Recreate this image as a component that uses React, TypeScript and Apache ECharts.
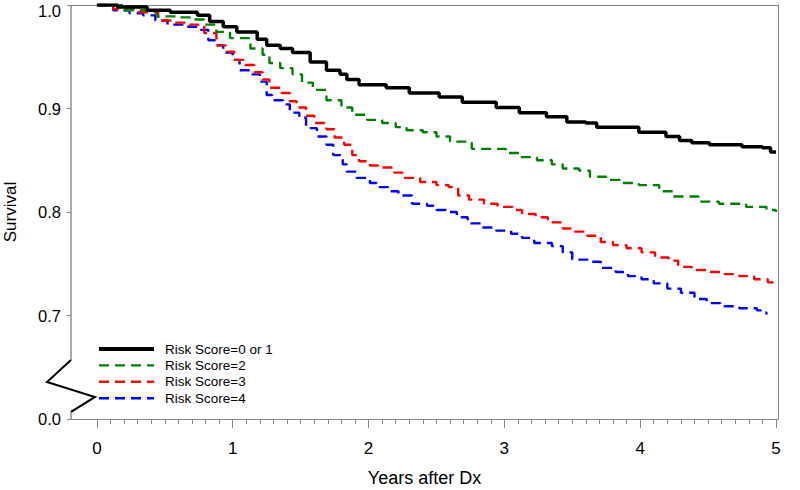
import React, { useEffect, useRef } from "react";
import * as echarts from "echarts";

const seriesNames = ["Risk Score=0 or 1", "Risk Score=2", "Risk Score=3", "Risk Score=4"];
const seriesColors = ["#000000", "#008000", "#ff0000", "#0000ff"];

const timeRisk01 = [0, 0.15, 0.37, 0.54, 0.74, 0.83, 0.93, 1.03, 1.18, 1.25, 1.35, 1.44, 1.57, 1.69, 1.79, 1.84, 1.93, 2.13, 2.3, 2.52, 2.69, 2.94, 3.11, 3.31, 3.46, 3.6, 3.68, 3.99, 4.19, 4.29, 4.38, 4.51, 4.75, 4.9, 4.96, 5.0];
const survRisk01 = [1.0, 0.998, 0.995, 0.993, 0.99, 0.984, 0.979, 0.974, 0.967, 0.961, 0.958, 0.954, 0.945, 0.937, 0.933, 0.928, 0.923, 0.92, 0.915, 0.911, 0.906, 0.901, 0.896, 0.892, 0.887, 0.886, 0.882, 0.877, 0.873, 0.869, 0.867, 0.865, 0.863, 0.862, 0.858, 0.858];

const timeRisk2 = [0, 0.2, 0.44, 0.59, 0.71, 0.79, 0.88, 0.98, 1.13, 1.22, 1.27, 1.35, 1.44, 1.51, 1.59, 1.69, 1.8, 1.88, 1.99, 2.1, 2.2, 2.28, 2.4, 2.5, 2.6, 2.76, 3.01, 3.11, 3.24, 3.35, 3.43, 3.55, 3.63, 3.75, 3.85, 3.99, 4.14, 4.24, 4.43, 4.58, 4.78, 4.93, 5.0];
const survRisk2 = [1.0, 0.995, 0.989, 0.988, 0.986, 0.981, 0.974, 0.968, 0.958, 0.952, 0.944, 0.939, 0.933, 0.925, 0.918, 0.908, 0.901, 0.894, 0.889, 0.886, 0.882, 0.879, 0.877, 0.873, 0.868, 0.861, 0.857, 0.853, 0.85, 0.846, 0.842, 0.84, 0.834, 0.831, 0.828, 0.826, 0.82, 0.815, 0.81, 0.808, 0.805, 0.802, 0.8];

const timeRisk3 = [0, 0.12, 0.27, 0.45, 0.55, 0.67, 0.79, 0.88, 0.96, 1.01, 1.09, 1.16, 1.22, 1.27, 1.36, 1.42, 1.47, 1.54, 1.6, 1.69, 1.75, 1.82, 1.88, 1.93, 2.01, 2.07, 2.19, 2.26, 2.38, 2.5, 2.59, 2.66, 2.74, 2.85, 2.95, 3.06, 3.13, 3.23, 3.32, 3.43, 3.51, 3.61, 3.71, 3.8, 3.9, 4.01, 4.11, 4.21, 4.28, 4.38, 4.49, 4.61, 4.73, 4.84, 4.94, 5.0];
const survRisk3 = [1.0, 0.996, 0.993, 0.985, 0.983, 0.981, 0.973, 0.961, 0.955, 0.947, 0.942, 0.935, 0.928, 0.92, 0.915, 0.907, 0.901, 0.893, 0.886, 0.88, 0.872, 0.865, 0.855, 0.849, 0.845, 0.843, 0.838, 0.833, 0.829, 0.826, 0.824, 0.816, 0.812, 0.808, 0.805, 0.802, 0.798, 0.795, 0.79, 0.784, 0.781, 0.777, 0.771, 0.768, 0.765, 0.761, 0.756, 0.753, 0.747, 0.744, 0.742, 0.74, 0.738, 0.735, 0.732, 0.73];

const timeRisk4 = [0, 0.12, 0.24, 0.34, 0.43, 0.52, 0.63, 0.74, 0.82, 0.87, 0.93, 1.0, 1.05, 1.13, 1.2, 1.25, 1.29, 1.37, 1.42, 1.49, 1.54, 1.62, 1.69, 1.74, 1.81, 1.84, 1.91, 2.01, 2.06, 2.15, 2.22, 2.32, 2.43, 2.5, 2.57, 2.65, 2.73, 2.83, 2.94, 3.05, 3.13, 3.22, 3.35, 3.43, 3.5, 3.63, 3.71, 3.82, 3.91, 4.01, 4.1, 4.2, 4.3, 4.4, 4.49, 4.59, 4.73, 4.86, 4.9, 4.93];
const survRisk4 = [1.0, 0.995, 0.992, 0.99, 0.985, 0.981, 0.979, 0.976, 0.966, 0.961, 0.954, 0.947, 0.937, 0.933, 0.926, 0.913, 0.908, 0.904, 0.896, 0.891, 0.881, 0.873, 0.865, 0.855, 0.846, 0.839, 0.833, 0.828, 0.824, 0.82, 0.816, 0.808, 0.806, 0.802, 0.8, 0.795, 0.789, 0.785, 0.782, 0.779, 0.775, 0.77, 0.767, 0.761, 0.754, 0.752, 0.746, 0.742, 0.738, 0.735, 0.731, 0.726, 0.722, 0.716, 0.712, 0.709, 0.707, 0.705, 0.703, 0.701];

const xMajorTicks = [0, 1, 2, 3, 4, 5];
const xMinorTicks = [
  0, 0.1, 0.2, 0.3, 0.4, 0.5, 0.6, 0.7, 0.8, 0.9, 1, 1.1, 1.2, 1.3, 1.4, 1.5, 1.6, 1.7, 1.8, 1.9,
  2, 2.1, 2.2, 2.3, 2.4, 2.5, 2.6, 2.7, 2.8, 2.9, 3, 3.1, 3.2, 3.3, 3.4, 3.5, 3.6, 3.7, 3.8, 3.9,
  4, 4.1, 4.2, 4.3, 4.4, 4.5, 4.6, 4.7, 4.8, 4.9, 5,
];
const yTickValues = [0.6, 0.7, 0.8, 0.9, 1.0];
const yTickLabels = ["0.0", "0.7", "0.8", "0.9", "1.0"];

const times = [timeRisk01, timeRisk2, timeRisk3, timeRisk4];
const survs = [survRisk01, survRisk2, survRisk3, survRisk4];

const FONT = "'Liberation Sans', Arial, sans-serif";
const AXIS_GRAY = "#888888";
const X_MIN = -0.191;
const X_MAX = 5.015;

export default function App() {
  const ref = useRef<HTMLDivElement>(null);

  useEffect(() => {
    if (!ref.current) return;
    const chart = echarts.init(ref.current, undefined, { renderer: "svg" });

    const series = seriesNames.map((name, i) => ({
      name,
      type: "line",
      step: "end",
      symbol: "none",
      xAxisIndex: 0,
      yAxisIndex: 0,
      data: times[i].map((t, k) => [t, survs[i][k]]),
      lineStyle: {
        color: seriesColors[i],
        width: i === 0 ? 3.5 : 2.4,
        type: i === 0 ? "solid" : [10, 6],
        cap: "butt",
      },
      itemStyle: { color: seriesColors[i] },
      z: 10 - i,
    }));

    const option: any = {
      animation: false,
      textStyle: { fontFamily: FONT },
      grid: { left: 71, right: 22, top: 5, bottom: 71, containLabel: false, outerBoundsMode: "none" },
      legend: {
        orient: "vertical",
        left: 97,
        top: 342,
        padding: 0,
        itemWidth: 55,
        itemHeight: 14,
        itemGap: 2.4,
        data: seriesNames.map((name, i) => ({
          name,
          lineStyle: { width: i === 0 ? 4 : 2.4 },
        })),
        itemStyle: { color: "rgba(0,0,0,0)", borderWidth: 0 },
        textStyle: {
          fontFamily: FONT,
          fontSize: 13.5,
          color: "#000",
          lineHeight: 14,
          padding: [0, 0, 0, 6],
        },
      },
      xAxis: [
        {
          type: "value",
          position: "bottom",
          min: X_MIN,
          max: X_MAX,
          name: "Years after Dx",
          nameLocation: "middle",
          nameGap: 50,
          nameTextStyle: { fontFamily: FONT, fontSize: 18, color: "#000" },
          axisLine: { show: true, onZero: false, lineStyle: { color: AXIS_GRAY, width: 1 } },
          axisTick: { show: true, length: 9, customValues: xMajorTicks, lineStyle: { color: AXIS_GRAY } },
          axisLabel: {
            show: true,
            customValues: xMajorTicks,
            margin: 21,
            fontFamily: FONT,
            fontSize: 17,
            color: "#000",
            formatter: (v: number) => String(Math.round(v)),
          },
          splitLine: { show: false },
        },
        {
          type: "value",
          position: "bottom",
          min: X_MIN,
          max: X_MAX,
          axisLine: { show: false, onZero: false },
          axisTick: { show: true, length: 5, customValues: xMinorTicks, lineStyle: { color: AXIS_GRAY } },
          axisLabel: { show: false },
          splitLine: { show: false },
        },
        {
          type: "value",
          position: "top",
          min: X_MIN,
          max: X_MAX,
          axisLine: { show: true, onZero: false, lineStyle: { color: AXIS_GRAY, width: 1 } },
          axisTick: { show: false },
          axisLabel: { show: false },
          splitLine: { show: false },
        },
      ],
      yAxis: [
        {
          type: "value",
          position: "left",
          min: 0.6,
          max: 1.0,
          name: "Survival",
          nameLocation: "middle",
          nameRotate: 90,
          nameGap: 52,
          nameTextStyle: { fontFamily: FONT, fontSize: 17, color: "#000" },
          axisLine: { show: false, onZero: false },
          axisTick: { show: true, length: 4, customValues: yTickValues, lineStyle: { color: AXIS_GRAY } },
          axisLabel: {
            show: true,
            customValues: yTickValues,
            margin: 10,
            fontFamily: FONT,
            fontSize: 16.5,
            color: "#000",
            verticalAlignMaxLabel: "top",
            formatter: (v: number) => {
              const idx = yTickValues.findIndex((t) => Math.abs(t - v) < 1e-6);
              if (idx < 0) return "";
              return idx === yTickValues.length - 1 ? "{top|" + yTickLabels[idx] + "}" : yTickLabels[idx];
            },
            rich: {
              top: { fontFamily: FONT, fontSize: 16.5, color: "#000", lineHeight: 12 },
            },
          },
          splitLine: { show: false },
        },
        {
          type: "value",
          position: "right",
          min: 0.6,
          max: 1.0,
          axisLine: { show: true, onZero: false, lineStyle: { color: AXIS_GRAY, width: 1 } },
          axisTick: { show: false },
          axisLabel: { show: false },
          splitLine: { show: false },
        },
      ],
      series,
    };

    chart.setOption(option);

    // Broken y-axis line with zigzag
    const x0 = chart.convertToPixel({ xAxisIndex: 0 }, X_MIN) as number;
    const py = (v: number) => chart.convertToPixel({ yAxisIndex: 0 }, v) as number;
    const breakTop = 0.657;
    const zig1 = 0.6357;
    const zig2 = 0.6213;
    const breakBottom = 0.6068;
    chart.setOption({
      graphic: [
        {
          type: "line",
          shape: { x1: x0, y1: py(1.0), x2: x0, y2: py(breakTop) },
          style: { stroke: "#555555", lineWidth: 1 },
          silent: true,
        },
        {
          type: "polyline",
          shape: {
            points: [
              [x0, py(breakTop)],
              [x0 - 24, py(zig1)],
              [x0 + 24, py(zig2)],
              [x0, py(breakBottom)],
            ],
          },
          style: { stroke: "#000000", lineWidth: 2, fill: null },
          silent: true,
        },
        {
          type: "line",
          shape: { x1: x0, y1: py(breakBottom), x2: x0, y2: py(0.6) },
          style: { stroke: "#555555", lineWidth: 1 },
          silent: true,
        },
      ],
    });

    return () => chart.dispose();
  }, []);

  return <div ref={ref} style={{ width: 800, height: 490, position: "absolute", left: 0, top: 0 }} />;
}
